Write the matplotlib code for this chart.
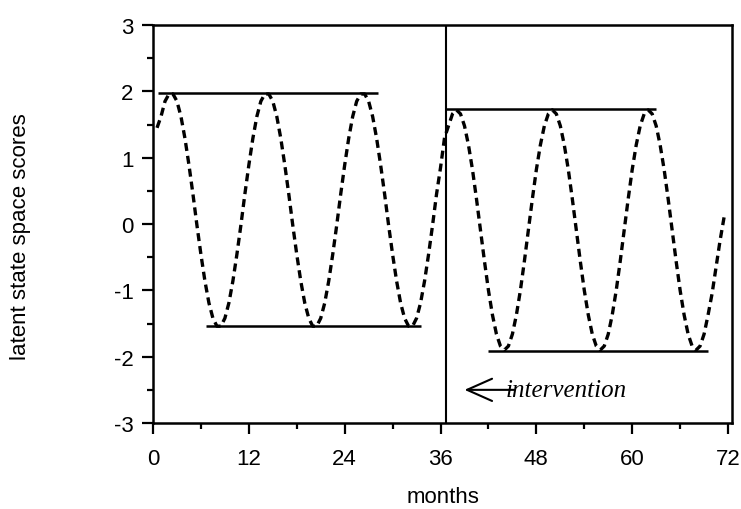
import numpy as np
import matplotlib
matplotlib.use('Agg')
import matplotlib.pyplot as plt

# months at half-month steps
months = np.arange(0.5, 72.0, 0.5)
scores = [
    1.45, 1.62, 1.85, 1.96, 1.96, 1.85, 1.62, 1.29, 0.89, 0.45, -0.02, -0.46,
    -0.86, -1.19, -1.42, -1.54, -1.54, -1.42, -1.19, -0.86, -0.46, -0.02, 0.45, 0.89,
    1.29, 1.62, 1.85, 1.96, 1.96, 1.85, 1.62, 1.29, 0.89, 0.45, -0.02, -0.46,
    -0.86, -1.19, -1.42, -1.54, -1.54, -1.42, -1.19, -0.86, -0.46, -0.02, 0.45, 0.89,
    1.29, 1.62, 1.85, 1.96, 1.96, 1.85, 1.62, 1.29, 0.89, 0.45, -0.02, -0.46,
    -0.86, -1.19, -1.42, -1.54, -1.54, -1.42, -1.19, -0.86, -0.46, -0.02, 0.45, 0.85,
    1.30, 1.48, 1.66, 1.72, 1.66, 1.48, 1.19, 0.82, 0.38, -0.09, -0.56, -1.00,
    -1.37, -1.66, -1.84, -1.90, -1.84, -1.66, -1.37, -1.00, -0.56, -0.09, 0.38, 0.82,
    1.19, 1.48, 1.66, 1.72, 1.66, 1.48, 1.19, 0.82, 0.38, -0.09, -0.56, -1.00,
    -1.37, -1.66, -1.84, -1.90, -1.84, -1.66, -1.37, -1.00, -0.56, -0.09, 0.38, 0.82,
    1.19, 1.48, 1.66, 1.72, 1.66, 1.48, 1.19, 0.82, 0.38, -0.09, -0.56, -1.00,
    -1.37, -1.66, -1.84, -1.90, -1.84, -1.66, -1.37, -1.05, -0.65, -0.25, 0.10,
]

# peak / trough reference lines: (level, start month, end month)
level_lines = [
    (1.98, 0.66, 28.2),
    (-1.54, 6.6, 33.6),
    (1.74, 36.7, 63.0),
    (-1.91, 42.0, 69.5),
]
intervention_month = 36.7

plt.rcParams['font.family'] = ['Liberation Sans', 'DejaVu Sans']
plt.rcParams['axes.unicode_minus'] = False

fig = plt.figure(figsize=(7.41, 5.10), dpi=100)
ax = fig.add_axes([0.2065, 0.1686, 0.7814, 0.7804])

ax.plot(months, scores, color='black', lw=2.4, linestyle=(0, (2.4, 1.5)))

for level, x0, x1 in level_lines:
    ax.plot([x0, x1], [level, level], color='black', lw=1.8, solid_capstyle='butt')

ax.axvline(intervention_month, color='black', lw=1.5)

ax.annotate('', xy=(39.0, -2.5), xytext=(45.2, -2.5),
            arrowprops=dict(arrowstyle='->,head_length=0.9,head_width=0.4',
                            mutation_scale=20, lw=1.5, color='black',
                            shrinkA=0, shrinkB=0))
ax.text(44.1, -2.5, 'intervention', family='Liberation Serif', style='italic',
        fontsize=18, ha='left', va='center')

ax.set_xlim(0, 72.5)
ax.set_ylim(-3, 3)
ax.set_xticks(range(0, 73, 12))
ax.set_xticks(range(6, 72, 12), minor=True)
ax.set_yticks(range(-3, 4))
ax.set_yticks(np.arange(-2.5, 3, 1.0), minor=True)
ax.tick_params(which='major', direction='out', length=8, width=1.6,
               labelsize=16)
ax.tick_params(axis='x', which='major', pad=10)
ax.tick_params(axis='y', which='major', pad=6)
ax.tick_params(which='minor', direction='out', length=4, width=1.6)

for side in ax.spines.values():
    side.set_linewidth(1.8)

ax.set_xlabel('months', fontsize=16, labelpad=12)
ax.set_ylabel('latent state space scores', fontsize=16)
ax.yaxis.set_label_coords(-0.21, 0.472)

fig.savefig('out.png', dpi=100)
